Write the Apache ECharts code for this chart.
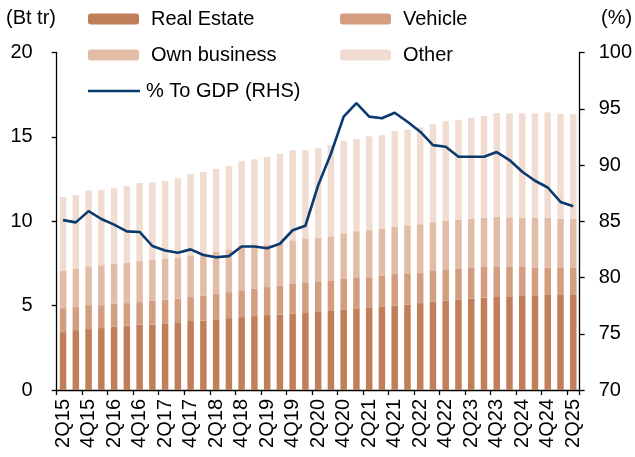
<!DOCTYPE html>
<html>
<head>
<meta charset="utf-8">
<script src="https://cdn.jsdelivr.net/npm/echarts@6/dist/echarts.min.js"></script>
<style>
  html, body { margin: 0; padding: 0; background: #fff; }
  #chart { width: 635px; height: 457px; }
</style>
</head>
<body>
<div id="chart"></div>
<script>
var quarters = ['2Q15','3Q15','4Q15','1Q16','2Q16','3Q16','4Q16','1Q17','2Q17','3Q17','4Q17',
  '1Q18','2Q18','3Q18','4Q18','1Q19','2Q19','3Q19','4Q19','1Q20','2Q20','3Q20','4Q20',
  '1Q21','2Q21','3Q21','4Q21','1Q22','2Q22','3Q22','4Q22','1Q23','2Q23','3Q23','4Q23',
  '1Q24','2Q24','3Q24','4Q24','1Q25','2Q25'];

// Bt tr
var realEstate = [3.43,3.55,3.61,3.67,3.75,3.81,3.87,3.88,3.91,3.97,4.09,4.10,4.19,4.26,4.32,4.38,4.44,4.48,4.54,4.56,4.62,
  4.68,4.78,4.84,4.90,4.96,5.01,5.07,5.15,5.23,5.29,5.35,5.41,5.47,5.51,5.51,5.57,5.57,5.63,5.63,5.63];
var vehicle = [1.42,1.36,1.42,1.36,1.37,1.34,1.34,1.40,1.44,1.44,1.42,1.48,1.50,1.54,1.59,1.64,1.66,1.70,1.74,1.78,1.78,
  1.82,1.80,1.80,1.78,1.80,1.86,1.84,1.78,1.82,1.82,1.82,1.82,1.82,1.82,1.78,1.72,1.68,1.62,1.60,1.60];
var ownBusiness = [2.20,2.26,2.30,2.36,2.35,2.38,2.43,2.42,2.41,2.41,2.47,2.55,2.49,2.54,2.67,2.61,2.53,2.53,2.59,2.61,2.61,
  2.61,2.71,2.77,2.79,2.78,2.79,2.85,2.89,2.89,2.91,2.91,2.91,2.91,2.93,2.95,2.91,2.95,2.95,2.91,2.91];
var other = [4.39,4.37,4.49,4.45,4.49,4.55,4.62,4.60,4.62,4.73,4.83,4.80,4.91,4.93,4.98,5.04,5.18,5.27,5.33,5.26,5.32,
  5.40,5.46,5.46,5.56,5.56,5.68,5.66,5.74,5.80,5.91,5.93,5.99,6.05,6.15,6.15,6.19,6.19,6.25,6.21,6.21];
// %
var toGdp = [85.1,84.9,85.9,85.2,84.7,84.1,84.05,82.8,82.4,82.2,82.5,82.0,81.8,81.9,82.75,82.75,82.6,83.0,84.2,84.6,88.2,
  91.0,94.3,95.5,94.3,94.15,94.65,93.85,92.96,91.77,91.62,90.73,90.73,90.73,91.15,90.44,89.4,88.6,88.0,86.72,86.34];

var leftTicks = { min: 0, max: 20, step: 5 };
var rightTicks = { min: 70, max: 100, step: 5 };

var FONT = 'Liberation Sans, Arial, sans-serif';
var colors = ['#c17f59', '#d39e80', '#e2bca7', '#f0dcd0', '#0b3a70'];

var chart = echarts.init(document.getElementById('chart'), null, { renderer: 'canvas' });

function legendAt(name, left, top) {
  return {
    data: [name], left: left, top: top, padding: 0,
    itemWidth: 51, itemHeight: 11,
    textStyle: { fontFamily: FONT, fontSize: 20, color: '#000', padding: [0, 0, 0, 7] },
    selectedMode: false
  };
}

var axisLine = { show: true, lineStyle: { color: '#000', width: 1.3 } };
var axisTick = { show: true, length: 5, lineStyle: { color: '#000', width: 1.3 } };

var gdpLegend = legendAt('% To GDP (RHS)', 88, 81);
gdpLegend.data = [{ name: '% To GDP (RHS)', icon: 'rect' }];
gdpLegend.itemWidth = 52;
gdpLegend.itemHeight = 2.6;
gdpLegend.textStyle.padding = [0, 0, 0, 1];

var option = {
  animation: false,
  backgroundColor: '#fff',
  color: colors,
  title: [
    { text: '(Bt tr)', left: 6, top: 8, padding: 0,
      textStyle: { fontFamily: FONT, fontSize: 20, fontWeight: 'normal', color: '#000' } },
    { text: '(%)', left: 601, top: 8, padding: 0,
      textStyle: { fontFamily: FONT, fontSize: 20, fontWeight: 'normal', color: '#000' } }
  ],
  legend: [
    legendAt('Real Estate', 88, 9),
    legendAt('Vehicle', 340, 9),
    legendAt('Own business', 88, 45),
    legendAt('Other', 340, 45),
    gdpLegend
  ],
  grid: { left: 56.7, right: 53.5, top: 52.5, bottom: 67, containLabel: false },
  xAxis: {
    type: 'category',
    data: quarters,
    boundaryGap: true,
    axisLine: axisLine,
    axisTick: Object.assign({ interval: 1, alignWithLabel: false }, axisTick),
    axisLabel: { interval: 1, rotate: 90, margin: 9, fontFamily: FONT, fontSize: 20, color: '#000' }
  },
  yAxis: [
    {
      type: 'value', min: leftTicks.min, max: leftTicks.max, interval: leftTicks.step,
      axisLine: axisLine, axisTick: axisTick, splitLine: { show: false },
      axisLabel: { margin: 24, fontFamily: FONT, fontSize: 20, color: '#000' }
    },
    {
      type: 'value', min: rightTicks.min, max: rightTicks.max, interval: rightTicks.step,
      position: 'right',
      axisLine: axisLine, axisTick: axisTick, splitLine: { show: false },
      axisLabel: { margin: 19, fontFamily: FONT, fontSize: 20, color: '#000' }
    }
  ],
  series: [
    { name: 'Real Estate', type: 'bar', stack: 'loan', barWidth: '51%', data: realEstate, itemStyle: { color: colors[0] } },
    { name: 'Vehicle', type: 'bar', stack: 'loan', barWidth: '51%', data: vehicle, itemStyle: { color: colors[1] } },
    { name: 'Own business', type: 'bar', stack: 'loan', barWidth: '51%', data: ownBusiness, itemStyle: { color: colors[2] } },
    { name: 'Other', type: 'bar', stack: 'loan', barWidth: '51%', data: other, itemStyle: { color: colors[3] } },
    { name: '% To GDP (RHS)', type: 'line', yAxisIndex: 1, data: toGdp, symbol: 'none',
      lineStyle: { color: colors[4], width: 2.6 }, itemStyle: { color: colors[4] }, z: 5 }
  ]
};

chart.setOption(option);
</script>
</body>
</html>
